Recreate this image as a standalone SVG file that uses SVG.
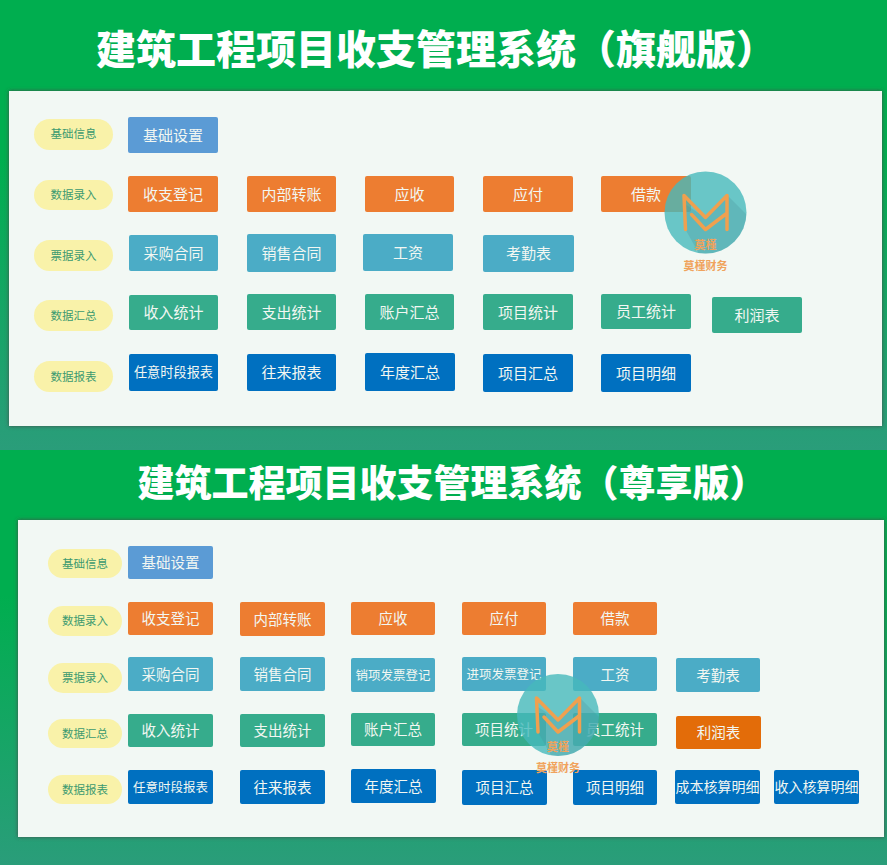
<svg xmlns="http://www.w3.org/2000/svg" width="887" height="865" viewBox="0 0 887 865">
<style>
text{font-family:"Noto Sans CJK SC","Noto Sans",sans-serif;text-anchor:middle}
.t{fill:#fff;font-weight:900}
.b{fill:#f2f7f2;dominant-baseline:central;transform:translateY(-1px)}
#top-buttons .b{font-size:15px}
#bottom-buttons .b{font-size:14.5px}
#bottom-buttons .s{font-size:12.5px}
.p{fill:#f9f2a9}
.l{fill:#3c9a70;font-size:11.5px;dominant-baseline:central;transform:translateY(-1px)}
.bl{fill:#5b9bd5}.or{fill:#ed7d31}.te{fill:#4bacc6}.gr{fill:#36ac8c}.na{fill:#0070c0}.dk{fill:#e36c09}
.wm{fill:#f0a35c;font-size:11px;font-weight:700}
</style>
<defs>
<linearGradient id="g1" x1="0" y1="0" x2="0" y2="1"><stop offset="0" stop-color="#00ae4f"/><stop offset=".35" stop-color="#00ae4f"/><stop offset="1" stop-color="#2a9d7a"/></linearGradient>
<filter id="sh" x="-2%" y="-3%" width="104%" height="106%"><feDropShadow dx="0" dy="0" stdDeviation="2" flood-color="#444" flood-opacity=".9"/></filter>
<clipPath id="cc"><circle cx="0" cy="0" r="41"/></clipPath>
<g id="wmk">
<circle r="41" fill="#46b9bb" fill-opacity=".8"/>
<path d="M22-17 42 3V42H-6L-20 17V-8L0 5Z" fill="#4a8f9a" fill-opacity=".28" clip-path="url(#cc)"/>
<path d="M-20 17-21.500-17 0 5 21.500-17V17M-14 2 0 17 21 1" fill="none" stroke="#f0a04f" stroke-width="3.500" stroke-linecap="round" stroke-linejoin="round"/>
<text class="wm" x="0" y="36">莫槿</text>
<text class="wm" x="0" y="57">莫槿财务</text>
</g>
</defs>
<rect id="bg1" x="0" y="0" width="887" height="450" fill="url(#g1)"/>
<rect id="bg2" x="0" y="450" width="887" height="415" fill="url(#g1)"/>
<text class="t" x="436" y="64" font-size="40">建筑工程项目收支管理系统（旗舰版）</text>
<text class="t" x="452" y="497" font-size="37">建筑工程项目收支管理系统（尊享版）</text>
<rect id="panel1" x="9" y="91" width="873" height="335" fill="#f2f8f4" filter="url(#sh)"/>
<rect id="panel2" x="18" y="520" width="866" height="317" fill="#f2f8f4" filter="url(#sh)"/>

<g id="top-labels">
<g id="tl1"><rect class="p" x="34" y="119" width="79" height="31" rx="15.5"/><text class="l" x="73.500" y="134">基础信息</text></g>
<g id="tl2"><rect class="p" x="34" y="180" width="79" height="30" rx="15"/><text class="l" x="73.500" y="195">数据录入</text></g>
<g id="tl3"><rect class="p" x="34" y="240" width="79" height="31" rx="15.500"/><text class="l" x="73.500" y="255.500">票据录入</text></g>
<g id="tl4"><rect class="p" x="34" y="300" width="79" height="31" rx="15.500"/><text class="l" x="73.500" y="315.500">数据汇总</text></g>
<g id="tl5"><rect class="p" x="34" y="361" width="79" height="31" rx="15.500"/><text class="l" x="73.500" y="376.500">数据报表</text></g>
</g>

<g id="top-buttons">
<g id="a1"><rect class="bl" x="128" y="117" width="90" height="36" rx="2"/><text class="b" x="173" y="135">基础设置</text></g>
<g id="a2"><rect class="or" x="128" y="176" width="90" height="36" rx="2"/><text class="b" x="173" y="194">收支登记</text></g>
<g id="a3"><rect class="or" x="247" y="176" width="89" height="36" rx="2"/><text class="b" x="291.500" y="194">内部转账</text></g>
<g id="a4"><rect class="or" x="365" y="176" width="89" height="36" rx="2"/><text class="b" x="409.500" y="194">应收</text></g>
<g id="a5"><rect class="or" x="483" y="176" width="90" height="36" rx="2"/><text class="b" x="528" y="194">应付</text></g>
<g id="a6"><rect class="or" x="601" y="176" width="90" height="36" rx="2"/><text class="b" x="646" y="194">借款</text></g>
<g id="a7"><rect class="te" x="129" y="235" width="89" height="36" rx="2"/><text class="b" x="173.500" y="253">采购合同</text></g>
<g id="a8"><rect class="te" x="247" y="234" width="89" height="38" rx="2"/><text class="b" x="291.500" y="253">销售合同</text></g>
<g id="a9"><rect class="te" x="363" y="234" width="90" height="37" rx="2"/><text class="b" x="408" y="252.500">工资</text></g>
<g id="a10"><rect class="te" x="483" y="235" width="91" height="37" rx="2"/><text class="b" x="528.500" y="253.500">考勤表</text></g>
<g id="a11"><rect class="gr" x="129" y="295" width="89" height="35" rx="2"/><text class="b" x="173.500" y="312.500">收入统计</text></g>
<g id="a12"><rect class="gr" x="247" y="294" width="89" height="36" rx="2"/><text class="b" x="291.500" y="312">支出统计</text></g>
<g id="a13"><rect class="gr" x="365" y="294" width="89" height="36" rx="2"/><text class="b" x="409.500" y="312">账户汇总</text></g>
<g id="a14"><rect class="gr" x="483" y="294" width="90" height="36" rx="2"/><text class="b" x="528" y="312">项目统计</text></g>
<g id="a15"><rect class="gr" x="601" y="294" width="90" height="35" rx="2"/><text class="b" x="646" y="311.500">员工统计</text></g>
<g id="a16"><rect class="gr" x="712" y="297" width="90" height="36" rx="2"/><text class="b" x="757" y="315">利润表</text></g>
<g id="a17"><rect class="na" x="129" y="354" width="89" height="37" rx="2"/><text class="b" x="173.500" y="372.500" style="font-size:13.200px">任意时段报表</text></g>
<g id="a18"><rect class="na" x="247" y="354" width="89" height="37" rx="2"/><text class="b" x="291.500" y="372.500">往来报表</text></g>
<g id="a19"><rect class="na" x="365" y="353" width="90" height="38" rx="2"/><text class="b" x="410" y="372">年度汇总</text></g>
<g id="a20"><rect class="na" x="483" y="354" width="90" height="38" rx="2"/><text class="b" x="528" y="373">项目汇总</text></g>
<g id="a21"><rect class="na" x="601" y="354" width="90" height="38" rx="2"/><text class="b" x="646" y="373">项目明细</text></g>
</g>
<g id="watermark1"><use href="#wmk" x="705.500" y="212.500"/></g>

<g id="bottom-labels">
<g id="bl1"><rect class="p" x="48" y="549" width="74" height="29" rx="14.500"/><text class="l" x="85" y="563.500">基础信息</text></g>
<g id="bl2"><rect class="p" x="48" y="606" width="74" height="30" rx="15"/><text class="l" x="85" y="621">数据录入</text></g>
<g id="bl3"><rect class="p" x="48" y="663" width="74" height="30" rx="15"/><text class="l" x="85" y="678">票据录入</text></g>
<g id="bl4"><rect class="p" x="48" y="719" width="74" height="29" rx="14.500"/><text class="l" x="85" y="733.500">数据汇总</text></g>
<g id="bl5"><rect class="p" x="48" y="775" width="74" height="29" rx="14.500"/><text class="l" x="85" y="789.500">数据报表</text></g>
</g>

<g id="bottom-buttons">
<g id="c1"><rect class="bl" x="128" y="546" width="85" height="33" rx="2"/><text class="b" x="170.500" y="562.500">基础设置</text></g>
<g id="c2"><rect class="or" x="128" y="602" width="85" height="33" rx="2"/><text class="b" x="170.500" y="618.500">收支登记</text></g>
<g id="c3"><rect class="or" x="240" y="602" width="85" height="34" rx="2"/><text class="b" x="282.500" y="619">内部转账</text></g>
<g id="c4"><rect class="or" x="351" y="602" width="84" height="33" rx="2"/><text class="b" x="393" y="618.500">应收</text></g>
<g id="c5"><rect class="or" x="462" y="602" width="84" height="33" rx="2"/><text class="b" x="504" y="618.500">应付</text></g>
<g id="c6"><rect class="or" x="573" y="602" width="84" height="33" rx="2"/><text class="b" x="615" y="618.500">借款</text></g>
<g id="c7"><rect class="te" x="128" y="657" width="85" height="34" rx="2"/><text class="b" x="170.500" y="674">采购合同</text></g>
<g id="c8"><rect class="te" x="240" y="657" width="85" height="34" rx="2"/><text class="b" x="282.500" y="674">销售合同</text></g>
<g id="c9"><rect class="te" x="351" y="658" width="84" height="34" rx="2"/><text class="b s" x="393" y="675">销项发票登记</text></g>
<g id="c10"><rect class="te" x="462" y="657" width="84" height="34" rx="2"/><text class="b s" x="504" y="674">进项发票登记</text></g>
<g id="c11"><rect class="te" x="573" y="657" width="84" height="34" rx="2"/><text class="b" x="615" y="674">工资</text></g>
<g id="c12"><rect class="te" x="676" y="658" width="84" height="34" rx="2"/><text class="b" x="718" y="675">考勤表</text></g>
<g id="c13"><rect class="gr" x="128" y="714" width="85" height="33" rx="2"/><text class="b" x="170.500" y="730.500">收入统计</text></g>
<g id="c14"><rect class="gr" x="240" y="714" width="85" height="33" rx="2"/><text class="b" x="282.500" y="730.500">支出统计</text></g>
<g id="c15"><rect class="gr" x="351" y="713" width="84" height="33" rx="2"/><text class="b" x="393" y="729.500">账户汇总</text></g>
<g id="c16"><rect class="gr" x="462" y="713" width="84" height="33" rx="2"/><text class="b" x="504" y="729.500">项目统计</text></g>
<g id="c17"><rect class="gr" x="573" y="713" width="84" height="33" rx="2"/><text class="b" x="615" y="729.500">员工统计</text></g>
<g id="c18"><rect class="dk" x="676" y="716" width="85" height="33" rx="2"/><text class="b" x="718.500" y="732.500">利润表</text></g>
<g id="c19"><rect class="na" x="128" y="770" width="85" height="34" rx="2"/><text class="b s" x="170.500" y="787">任意时段报表</text></g>
<g id="c20"><rect class="na" x="240" y="770" width="85" height="34" rx="2"/><text class="b" x="282.500" y="787">往来报表</text></g>
<g id="c21"><rect class="na" x="351" y="769" width="85" height="34" rx="2"/><text class="b" x="393.500" y="786">年度汇总</text></g>
<g id="c22"><rect class="na" x="462" y="770" width="85" height="35" rx="2"/><text class="b" x="504.500" y="787.500">项目汇总</text></g>
<g id="c23"><rect class="na" x="573" y="770" width="84" height="35" rx="2"/><text class="b" x="615" y="787.500">项目明细</text></g>
<g id="c24"><rect class="na" x="675" y="770" width="85" height="34" rx="2"/><text class="b" x="717.500" y="787" style="font-size:14px">成本核算明细</text></g>
<g id="c25"><rect class="na" x="774" y="770" width="85" height="34" rx="2"/><text class="b" x="816.500" y="787" style="font-size:14px">收入核算明细</text></g>
</g>
<g id="watermark2"><use href="#wmk" x="558" y="715"/></g>
<g id="connectors"/>
</svg>
